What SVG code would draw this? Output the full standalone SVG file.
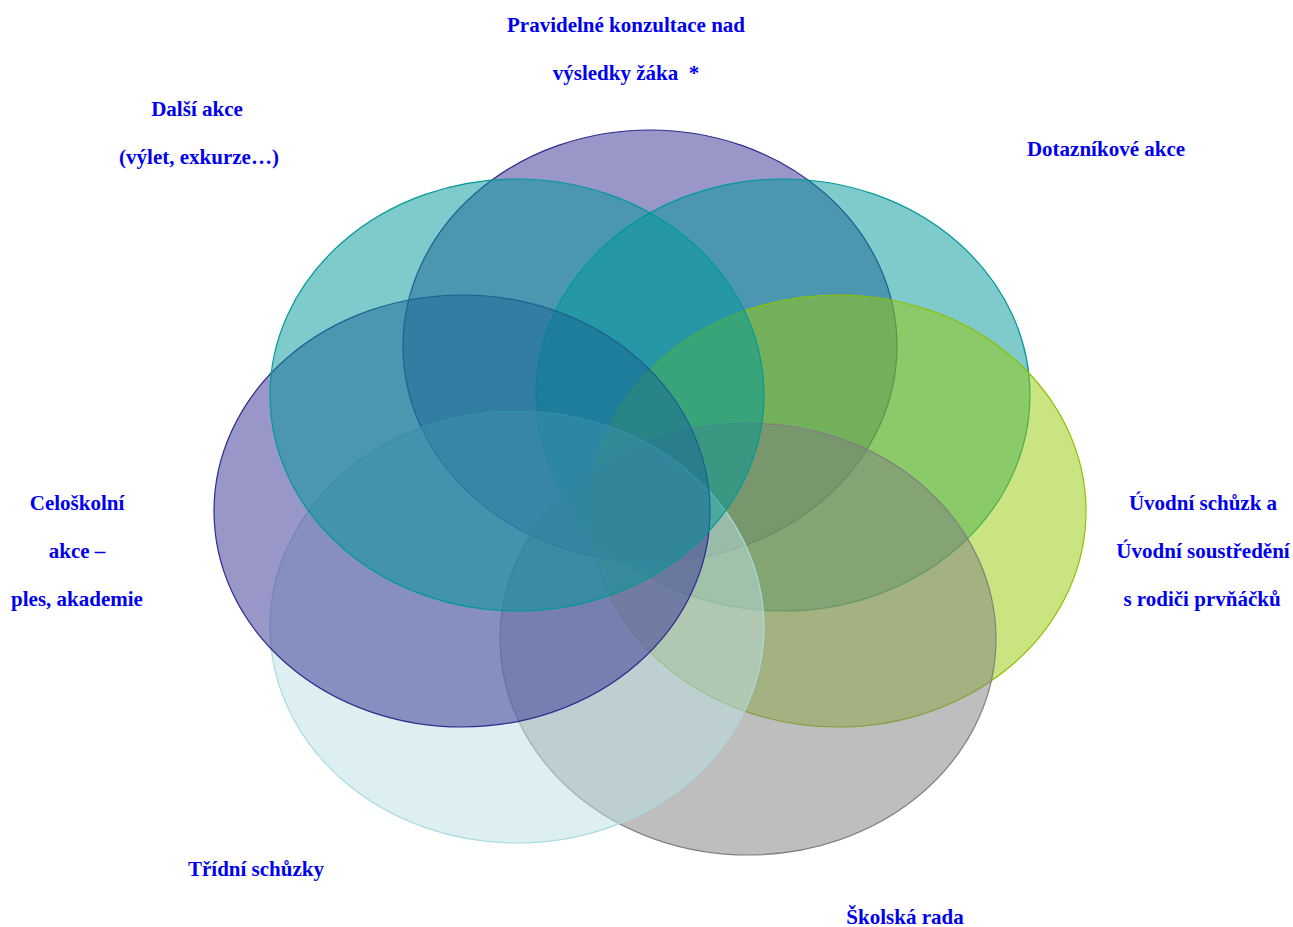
<svg xmlns="http://www.w3.org/2000/svg" width="1293" height="927" viewBox="0 0 1293 927">
<style>
.e{fill-opacity:0.5;stroke-width:1.2}
.p{fill:#312F91;stroke:#2E2A8F}
.t{fill:#009797;stroke:#00999A}
.g{fill:#97C905;stroke:#8FC000}
.k{fill:#7D7D7D;stroke:#808080}
.c{fill:#BBDFE3;stroke:#A8DCE0}
.lbl{font-family:"Liberation Serif","Times New Roman",serif;font-weight:bold;font-size:21px;fill:#0000F0;text-anchor:middle;white-space:pre}
</style>
<g id="circles">
<g id="n-top"><ellipse class="e p" cx="650" cy="346" rx="247" ry="216"/></g>
<g id="n-rtop"><ellipse class="e t" cx="783" cy="395" rx="247" ry="216"/></g>
<g id="n-right"><ellipse class="e g" cx="838" cy="511" rx="248" ry="216"/></g>
<g id="n-bottom"><ellipse class="e k" cx="748" cy="639" rx="248" ry="216"/></g>
<g id="n-lbottom"><ellipse class="e c" cx="517" cy="627" rx="247" ry="216"/></g>
<g id="n-left"><ellipse class="e p" cx="462" cy="511" rx="248" ry="216"/></g>
<g id="n-ltop"><ellipse class="e t" cx="517" cy="395" rx="247" ry="216"/></g>
</g>
<g id="labels">
<g id="l-top"><text class="lbl" x="626" y="32">Pravidelné konzultace nad</text><text class="lbl" x="626" y="80" xml:space="preserve">výsledky žáka  *</text></g>
<g id="l-ltop"><text class="lbl" x="197" y="116">Další akce</text><text class="lbl" x="199" y="164">(výlet, exkurze…)</text></g>
<g id="l-rtop"><text class="lbl" x="1106" y="156">Dotazníkové akce</text></g>
<g id="l-left"><text class="lbl" x="77" y="510">Celoškolní</text><text class="lbl" x="77" y="558">akce –</text><text class="lbl" x="77" y="606">ples, akademie</text></g>
<g id="l-right"><text class="lbl" x="1203" y="510">Úvodní schůzk a</text><text class="lbl" x="1203" y="558">Úvodní soustředění</text><text class="lbl" x="1202" y="606">s rodiči prvňáčků</text></g>
<g id="l-lbottom"><text class="lbl" x="256" y="876">Třídní schůzky</text></g>
<g id="l-bottom"><text class="lbl" x="905" y="924">Školská rada</text></g>
</g>
</svg>
